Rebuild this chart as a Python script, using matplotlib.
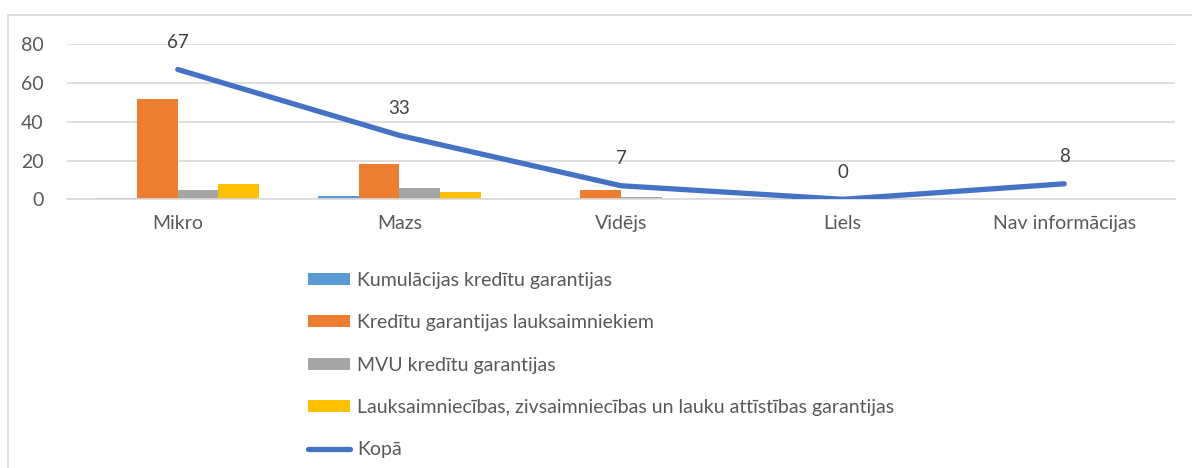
import matplotlib
matplotlib.use("Agg")
import matplotlib.pyplot as plt
import numpy as np
from matplotlib.patches import Rectangle, Patch
from matplotlib.lines import Line2D

plt.rcParams['font.family'] = ['Lato', 'DejaVu Sans']

categories = ["Mikro", "Mazs", "Vidējs", "Liels", "Nav informācijas"]
series_names = [
    "Kumulācijas kredītu garantijas",
    "Kredītu garantijas lauksaimniekiem",
    "MVU kredītu garantijas",
    "Lauksaimniecības, zivsaimniecības un lauku attīstības garantijas",
]
kumulacijas = [0.8, 1.5, 0, 0, 0]
lauksaimniekiem = [52, 18, 5, 0, 0]
mvu = [4.6, 6, 1, 0, 0]
lauku_attistibas = [8, 3.7, 0, 0, 0]
kopa = [67, 33, 7, 0, 8]
total_name = "Kopā"

bar_colors = ["#5B9BD5", "#ED7D31", "#A5A5A5", "#FFC000"]
line_color = "#4472C4"
text_color = "#595959"
grid_color = "#D9D9D9"

W, H = 1192, 468
fig = plt.figure(figsize=(W / 100, H / 100), dpi=100)

# outer chart border
fig.patches.append(Rectangle((8 / W, -0.05), 1.2, 1 - 15 / H + 0.05,
                             transform=fig.transFigure, fill=False,
                             edgecolor=grid_color, linewidth=1.2))

ax = fig.add_axes([67 / W, 1 - 199.3 / H, (1175 - 67) / W, 155 / H])

x = np.arange(len(categories))
bw = 0.183
all_series = [kumulacijas, lauksaimniekiem, mvu, lauku_attistibas]
for i, (vals, col) in enumerate(zip(all_series, bar_colors)):
    ax.bar(x + (i - 1.5) * bw, vals, width=bw, color=col, zorder=2)

ax.plot(x, kopa, color=line_color, linewidth=3.8, solid_capstyle='round',
        solid_joinstyle='round', zorder=3)
for xi, v in zip(x, kopa):
    ax.annotate(f"{v}", (xi, v), xytext=(0, 19.5), textcoords='offset points',
                ha='center', va='center', fontsize=13.5, color="#404040",
                annotation_clip=False)

ax.set_xlim(-0.5, len(categories) - 0.5)
ax.set_ylim(0, 80)
ax.set_yticks([0, 20, 40, 60, 80])
ax.set_xticks(x)
ax.set_xticklabels(categories)
ax.tick_params(axis='both', length=0, colors=text_color, labelsize=14)
ax.tick_params(axis='x', pad=11)
ax.tick_params(axis='y', pad=17)
ax.grid(axis='y', color=grid_color, linewidth=1.2, zorder=0)
ax.set_axisbelow(True)
for s in ['top', 'right', 'left']:
    ax.spines[s].set_visible(False)
ax.spines['bottom'].set_color(grid_color)
ax.spines['bottom'].set_linewidth(1.2)

handles = [Patch(facecolor=c, edgecolor='none') for c in bar_colors]
handles.append(Line2D([0], [0], color=line_color, linewidth=3.8,
                      solid_capstyle='round'))
labels = series_names + [total_name]
leg = fig.legend(handles, labels, loc='upper left',
                 bbox_to_anchor=(308 / W, 1 - 272 / H),
                 frameon=False, fontsize=14, labelcolor=text_color,
                 handlelength=2.15, handleheight=0.57, handletextpad=0.36,
                 labelspacing=1.3, borderpad=0, borderaxespad=0)

fig.savefig("out.png", dpi=100)
